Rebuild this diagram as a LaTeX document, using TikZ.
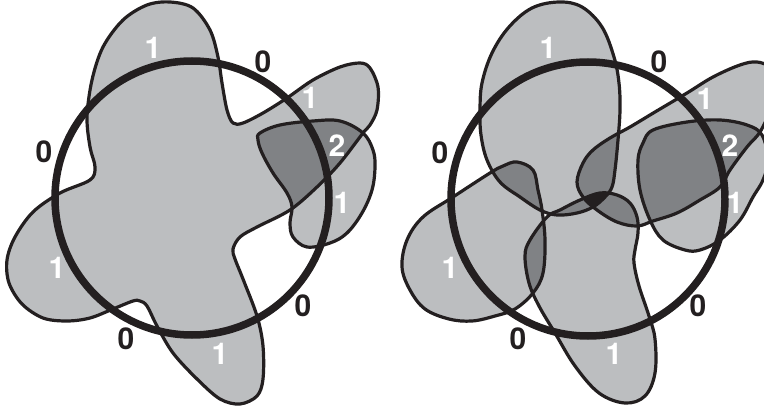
\documentclass[tikz,border=0pt]{standalone}
\usepackage{fontspec}
\setmainfont{TeX Gyre Heros}
\definecolor{lightg}{RGB}{188,190,192}
\definecolor{darkg}{RGB}{128,130,133}
\definecolor{blk}{RGB}{35,31,32}
\tikzset{
  blobline/.style={draw=blk, line width=3.2pt, line join=round},
  ringline/.style={draw=blk, line width=7.5pt},
  labw/.style={text=white, font=\fontsize{30}{30}\selectfont\bfseries, inner sep=0pt},
  labk/.style={text=blk, font=\fontsize{30}{30}\selectfont\bfseries, inner sep=0pt}
}
% left figure
\def\LBig{plot[smooth cycle, tension=0.55] coordinates {(60,193) (90,180) (95,167) (90,147) (87,117) (92,80) (103,47) (123,20) (147,5) (170,2) (193,8) (210,30) (218,57) (222,83) (227,110) (233,123) (243,123) (263,113) (287,98) (313,80) (340,67) (360,63) (370,68) (378,87) (377,110) (370,125) (363,133) (340,163) (317,187) (290,210) (257,227) (240,237) (233,249) (235,259) (243,279) (257,316) (263,346) (263,379) (257,396) (240,404) (220,399) (197,379) (173,353) (157,326) (147,306) (140,301) (133,301) (113,309) (90,318) (67,321) (43,318) (22,304) (9,283) (7,260) (15,237) (33,212)}}
\def\LSmall{plot[smooth cycle, tension=0.6] coordinates {(260,133) (280,125) (313,121) (340,121) (363,133) (373,150) (375,167) (372,190) (362,213) (347,233) (330,243) (307,247) (293,237) (290,223) (292,207) (287,193) (273,173) (262,153) (258,140)}}
% right figure
\def\RA{plot[smooth cycle, tension=0.6] coordinates {(480,110) (482,83) (492,53) (509,27) (532,8) (559,2) (582,7) (602,27) (614,57) (619,83) (620,110) (618,140) (615,170) (612,187) (605,197) (593,207) (577,213) (557,215) (540,210) (520,197) (500,182) (487,160) (481,135)}}
\def\RB{plot[smooth cycle, tension=0.6] coordinates {(577,182) (583,163) (593,150) (610,138) (630,127) (655,112) (687,93) (713,77) (740,65) (757,62) (770,68) (775,85) (770,110) (760,132) (747,147) (730,170) (720,187) (700,200) (677,213) (653,221) (637,226) (617,222) (597,210) (583,197)}}
\def\RC{plot[smooth cycle, tension=0.6] coordinates {(547,217) (560,210) (580,200) (600,193) (617,195) (630,203) (637,217) (638,233) (635,250) (634,263) (639,286) (649,316) (655,339) (655,373) (645,396) (625,403) (599,393) (575,366) (555,333) (539,306) (529,283) (525,256) (530,240)}}
\def\RL{plot[smooth cycle, tension=0.6] coordinates {(402,267) (407,240) (423,217) (453,197) (490,173) (503,166) (517,162) (533,170) (538,190) (542,210) (545,240) (543,273) (533,293) (515,309) (495,316) (472,321) (449,319) (425,309) (410,290)}}
\def\RD{plot[smooth cycle, tension=0.6] coordinates {(643,143) (653,130) (687,122) (720,120) (747,125) (762,135) (768,160) (763,180) (753,197) (740,220) (720,240) (700,250) (685,250) (663,240) (650,220) (640,190) (638,160)}}
\begin{document}
\begin{tikzpicture}[x=1pt,y=-1pt]
\useasboundingbox (0,0) rectangle (764,412);
\begin{scope}
\clip (0,0) rectangle (764,412);
% light fills
\fill[lightg] \LBig;
\fill[lightg] \LSmall;
\fill[lightg] \RA;
\fill[lightg] \RB;
\fill[lightg] \RC;
\fill[lightg] \RL;
\fill[lightg] \RD;
% pairwise overlaps
\begin{scope}\clip \LBig; \fill[darkg] \LSmall;\end{scope}
\begin{scope}\clip \RA; \fill[darkg] \RB;\end{scope}
\begin{scope}\clip \RA; \fill[darkg] \RC;\end{scope}
\begin{scope}\clip \RA; \fill[darkg] \RL;\end{scope}
\begin{scope}\clip \RB; \fill[darkg] \RC;\end{scope}
\begin{scope}\clip \RB; \fill[darkg] \RD;\end{scope}
\begin{scope}\clip \RL; \fill[darkg] \RC;\end{scope}
% triple overlap
\begin{scope}\clip \RA; \clip \RB; \fill[blk] \RC;\end{scope}
% outlines
\draw[blobline] \LBig;
\draw[blobline] \LSmall;
\draw[blobline] \RA;
\draw[blobline] \RB;
\draw[blobline] \RC;
\draw[blobline] \RL;
\draw[blobline] \RD;
\end{scope}
% rings
\node[ringline, circle, minimum size=274pt, inner sep=0pt] (ringL) at (192,198) {};
\node[ringline, circle, minimum size=274pt, inner sep=0pt] (ringR) at (588,199) {};
% labels left
\node[labw] (l1) at (153,48) {1};
\node[labk] (l2) at (263,62) {0};
\node[labw] (l3) at (310,98) {1};
\node[labw] (l4) at (337,146) {2};
\node[labw] (l5) at (342,203) {1};
\node[labk] (l6) at (44,152) {0};
\node[labw] (l7) at (57,268) {1};
\node[labk] (l8) at (126,339) {0};
\node[labw] (l9) at (220,354) {1};
\node[labk] (l10) at (303,306) {0};
% labels right
\node[labw] (r1) at (548,48) {1};
\node[labk] (r2) at (659,62) {0};
\node[labw] (r3) at (705,99) {1};
\node[labw] (r4) at (730,146) {2};
\node[labw] (r5) at (735,203) {1};
\node[labk] (r6) at (440,153) {0};
\node[labw] (r7) at (450,268) {1};
\node[labk] (r8) at (518,339) {0};
\node[labw] (r9) at (614,354) {1};
\node[labk] (r10) at (698,306) {0};
\end{tikzpicture}
\end{document}
